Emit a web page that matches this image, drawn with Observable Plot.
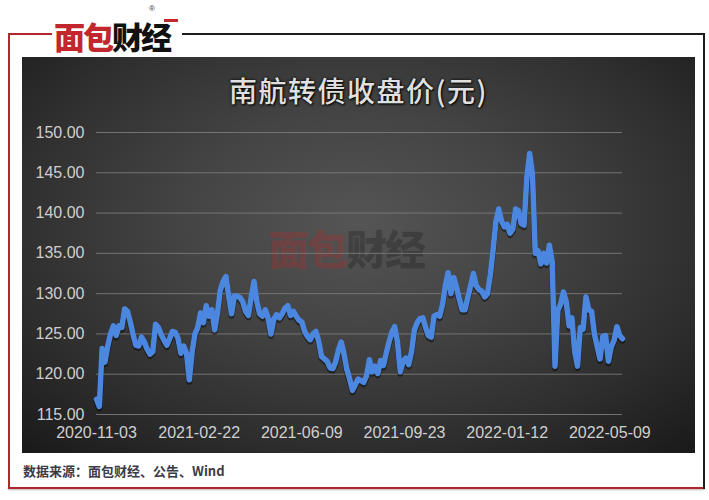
<!DOCTYPE html>
<html><head><meta charset="utf-8">
<script src="https://cdn.jsdelivr.net/npm/d3@7"></script>
<script src="https://cdn.jsdelivr.net/npm/@observablehq/plot@0.6"></script>
<style>
body{margin:0;background:#fff;width:709px;height:500px;overflow:hidden;position:relative;font-family:"Liberation Sans",Arial,sans-serif}
.abs{position:absolute}
#panel{left:22px;top:57px;width:673px;height:396px;background:radial-gradient(ellipse 75% 80% at 50% 42%,#555 0%,#444 35%,#2e2e2e 70%,#181818 100%);overflow:hidden}
#title{left:0;top:13px;width:100%;text-align:center;font-family:"Noto Sans CJK SC",sans-serif;font-size:28px;font-weight:500;color:#e0e0e0;letter-spacing:1.5px;text-shadow:1px 1px 2px #000,0 0 3px #000}
#wm{left:246px;top:166px;font-family:"Noto Sans CJK SC",sans-serif;font-size:41px;font-weight:900;letter-spacing:-2px;white-space:nowrap;line-height:1.2}
#chart{left:0;top:0}
#logo{left:54px;top:20px;font-family:"Noto Sans CJK SC",sans-serif;font-size:31px;font-weight:900;letter-spacing:-2px;white-space:nowrap;line-height:1}
#src{left:23px;top:461px;font-family:"Noto Sans CJK SC",sans-serif;font-size:13px;font-weight:700;color:#3b3b48;white-space:nowrap}
</style></head><body>
<div class="abs" style="left:8px;top:33px;width:2px;height:456px;background:#b3262c"></div>
<div class="abs" style="left:8px;top:487px;width:697px;height:2px;background:#b3262c;box-shadow:0 1px 2px rgba(0,0,0,0.3)"></div>
<div class="abs" style="left:8px;top:33px;width:44px;height:2px;background:#b3262c"></div>
<div class="abs" style="left:182px;top:33px;width:523px;height:2px;background:#1c1c1c"></div>
<div class="abs" style="left:703px;top:33px;width:2px;height:456px;background:#1c1c1c"></div>
<div class="abs" id="logo"><span style="color:#c1272d">面包</span><span style="color:#111">财经</span></div>
<div class="abs" style="left:149px;top:5px;font-size:8px;line-height:1;color:#333">®</div>
<div class="abs" style="left:164px;top:19px;width:14px;height:3px;background:#c1272d"></div>
<div class="abs" id="panel">
  <div class="abs" id="wm"><span style="color:rgba(170,45,45,0.35)">面包</span><span style="color:rgba(20,20,20,0.28)">财经</span></div>
  <div class="abs" id="chart"></div>
  <div class="abs" id="title">南航转债收盘价(元)</div>
</div>
<div class="abs" id="src">数据来源：面包财经、公告、Wind</div>
<script>
const xLabels = ["2020-11-03","2021-02-22","2021-06-09","2021-09-23","2022-01-12","2022-05-09"];
const xLabelIndex = [0,73,146,219,292,365];
const yTicks = [115,120,125,130,135,140,145,150];
const dayStep = 2;
const lastIndex = 374;
const closePrice = [
116.9,116.0,123.2,121.5,123.5,125.0,126.0,124.8,126.0,125.8,
128.1,127.8,126.5,124.9,123.6,123.5,124.6,124.0,123.1,122.5,
122.8,126.2,125.8,124.9,124.2,123.6,124.4,125.3,125.2,124.4,
122.6,123.5,122.6,119.3,122.8,125.0,125.8,127.6,126.4,128.5,
127.2,128.0,125.5,127.6,130.4,131.5,132.1,129.7,127.5,129.7,
129.7,129.5,129.0,127.8,127.3,129.6,131.5,129.0,127.5,127.2,
128.0,127.0,125.0,126.8,127.4,127.0,127.5,128.2,128.5,127.3,
127.8,127.2,126.7,126.5,125.3,124.7,124.3,125.0,125.3,124.1,
122.2,121.9,121.6,120.8,120.7,121.5,123.0,124.0,122.5,120.6,
119.4,118.0,118.7,119.4,119.2,119.0,119.8,121.8,120.3,121.0,
120.1,121.7,121.1,122.6,124.0,125.2,125.9,124.0,120.3,121.6,
122.0,121.2,122.8,125.5,126.4,126.9,127.0,125.8,124.8,124.6,
127.2,127.4,127.2,128.6,131.0,132.6,130.0,132.0,130.8,129.3,
128.0,128.0,129.5,131.0,132.5,131.0,130.5,130.3,129.6,130.0,
132.3,135.5,139.0,140.5,139.0,138.3,138.6,137.5,138.0,140.5,
140.3,138.7,138.5,144.5,147.4,144.8,135.0,135.3,133.7,135.0,
133.8,136.0,134.0,121.0,127.9,128.7,130.2,129.0,126.0,127.0,
122.8,121.0,125.8,125.6,129.6,128.0,127.8,125.0,123.4,121.9,
124.7,124.8,121.6,123.4,124.2,125.9,124.8,124.4
];
const fmt = d => xLabels[xLabelIndex.indexOf(d)];
const chart = Plot.plot({
  width: 673, height: 396,
  marginLeft: 74, marginRight: 73, marginTop: 75, marginBottom: 39,
  style: {background: "transparent", color: "#cfcfcf", fontFamily: "Liberation Sans, Arial, sans-serif", fontSize: "16px"},
  x: {domain: [0, lastIndex]},
  y: {domain: [115, 150]},
  marks: [
    Plot.gridY(yTicks, {stroke: "#7a7a7a", strokeOpacity: 0.9}),
    Plot.axisY(yTicks, {tickSize: 0, tickPadding: 12, tickFormat: d => d.toFixed(2), label: null, fill: "#cfcfcf", fontSize: 16}),
    Plot.axisX(xLabelIndex, {tickSize: 0, tickPadding: 12, tickFormat: fmt, label: null, fill: "#cfcfcf", fontSize: 16}),
    Plot.lineY(closePrice, {x: (d, i) => i * dayStep, y: d => d, stroke: "#000", strokeOpacity: 0.45, strokeWidth: 6, dy: 2}),
    Plot.lineY(closePrice, {x: (d, i) => i * dayStep, y: d => d, stroke: "#4b86df", strokeWidth: 5.5, strokeLinejoin: "round"})
  ]
});
document.getElementById("chart").appendChild(chart);
</script>
</body></html>
